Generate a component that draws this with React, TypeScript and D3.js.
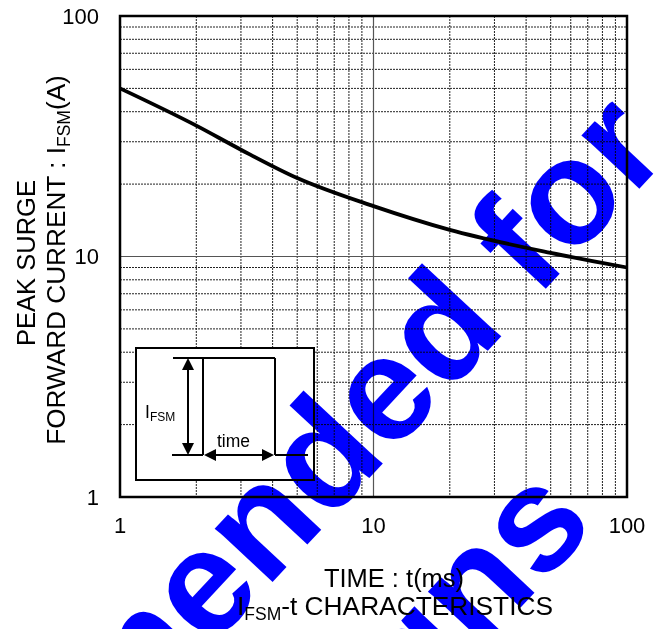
import React from "react";
import * as d3 from "d3";

// ---- data ----
const timeMs = [1, 2, 3, 5, 10, 20, 50, 100];
const ifsmA = [50, 35, 27.8, 21.2, 16.2, 12.9, 10.35, 9.0];
const xTickValues = [1, 10, 100];
const yTickValues = [1, 10, 100];
const minorGrid = [2, 3, 4, 5, 6, 7, 8, 9, 20, 30, 40, 50, 60, 70, 80, 90];
const majorGrid = [10];
const watermarkLines = ["Not Recommended for", "New Designs"];

const W = 658;
const H = 629;
const M = { left: 120, right: 627, top: 16, bottom: 497 };
const FONT = "'Liberation Sans', Arial, Helvetica, sans-serif";

export default function App() {
  const x = d3.scaleLog().domain([1, 100]).range([M.left, M.right]);
  const y = d3.scaleLog().domain([1, 100]).range([M.bottom, M.top]);

  const line = d3
    .line<number>()
    .x((_, i) => x(timeMs[i]))
    .y((d) => y(d))
    .curve(d3.curveMonotoneX);
  const path = line(ifsmA) || "";

  // inset geometry (relative to inset box origin)
  const bx = 136, by = 348, bw = 178, bh = 132;
  const topY = by + 10, botY = by + 107;
  const p1 = bx + 67, p2 = bx + 139;
  const ax = bx + 52;
  const ah = 6, al = 11;

  return (
    <svg
      width={W}
      height={H}
      style={{ position: "absolute", left: 0, top: 0, background: "#fff" }}
      fontFamily={FONT}
    >
      <rect x={0} y={0} width={W} height={H} fill="#fff" />
      {/* grid */}
      <g>
        {minorGrid.map((v) => (
          <line key={"gx" + v} x1={x(v)} x2={x(v)} y1={M.top} y2={M.bottom}
            stroke="#222" strokeWidth={1} strokeDasharray="2,1" />
        ))}
        {minorGrid.map((v) => (
          <line key={"gy" + v} y1={y(v)} y2={y(v)} x1={M.left} x2={M.right}
            stroke="#222" strokeWidth={1} strokeDasharray="2,1" />
        ))}
        {majorGrid.map((v) => (
          <line key={"mx" + v} x1={x(v)} x2={x(v)} y1={M.top} y2={M.bottom}
            stroke="#555" strokeWidth={1.2} />
        ))}
        {majorGrid.map((v) => (
          <line key={"my" + v} y1={y(v)} y2={y(v)} x1={M.left} x2={M.right}
            stroke="#555" strokeWidth={1.2} />
        ))}
      </g>

      {/* curve */}
      <path d={path} fill="none" stroke="#000" strokeWidth={3.8} />

      {/* inset */}
      <g stroke="#000" strokeWidth={2} fill="none">
        <rect x={bx} y={by} width={bw} height={bh} fill="#fff" />
        <line x1={bx + 37} x2={p2} y1={topY} y2={topY} />
        <line x1={p1} x2={p1} y1={topY} y2={botY} />
        <line x1={p2} x2={p2} y1={topY} y2={botY} />
        <line x1={bx + 36} x2={p1} y1={botY} y2={botY} />
        <line x1={p2} x2={bx + 172} y1={botY} y2={botY} />
        <line x1={ax} x2={ax} y1={topY + al} y2={botY - al} />
        <line x1={p1 + al} x2={p2 - al} y1={botY} y2={botY} />
      </g>
      <g fill="#000">
        <polygon points={`${ax},${topY} ${ax - ah},${topY + al + 1} ${ax + ah},${topY + al + 1}`} />
        <polygon points={`${ax},${botY} ${ax - ah},${botY - al - 1} ${ax + ah},${botY - al - 1}`} />
        <polygon points={`${p1 + 1},${botY} ${p1 + al + 2},${botY - ah} ${p1 + al + 2},${botY + ah}`} />
        <polygon points={`${p2 - 1},${botY} ${p2 - al - 2},${botY - ah} ${p2 - al - 2},${botY + ah}`} />
      </g>
      <text x={bx + 9} y={by + 70} fontSize={17.5}>
        I<tspan fontSize={12} dy={3}>FSM</tspan>
      </text>
      <text x={bx + 81} y={by + 99} fontSize={17.5}>time</text>

      {/* border */}
      <rect x={M.left} y={M.top} width={M.right - M.left} height={M.bottom - M.top}
        fill="none" stroke="#000" strokeWidth={2.5} />

      {/* tick labels */}
      {xTickValues.map((v) => (
        <text key={"xt" + v} x={x(v)} y={533} fontSize={22} textAnchor="middle">{v}</text>
      ))}
      {yTickValues.map((v) => (
        <text key={"yt" + v} x={99} y={y(v)} dy="0.36em" fontSize={22} textAnchor="end">{v}</text>
      ))}

      {/* axis titles */}
      <text x={394} y={587} fontSize={25.5} textAnchor="middle">TIME : t(ms)</text>
      <text x={395} y={615} fontSize={26.3} textAnchor="middle">
        I<tspan fontSize={17.5} dy={5}>FSM</tspan><tspan dy={-5}>-t CHARACTERISTICS</tspan>
      </text>
      <g transform="translate(35,263) rotate(-90)">
        <text x={0} y={0} fontSize={25.5} textAnchor="middle">PEAK SURGE</text>
      </g>
      <g transform="translate(65,260) rotate(-90)">
        <text x={0} y={0} fontSize={26.2} textAnchor="middle">
          FORWARD CURRENT : I<tspan fontSize={17.5} dy={5}>FSM</tspan><tspan dy={-5}>(A)</tspan>
        </text>
      </g>

      {/* watermark */}
      <g transform="translate(127,738) rotate(-47)" style={{ mixBlendMode: "multiply" }}>
        {watermarkLines.map((t, i) => (
          <text key={t} x={i * 12.5} y={i * 199} fontSize={149} fontWeight="bold"
            textAnchor="middle" fill="#0000ff">{t}</text>
        ))}
      </g>
    </svg>
  );
}
